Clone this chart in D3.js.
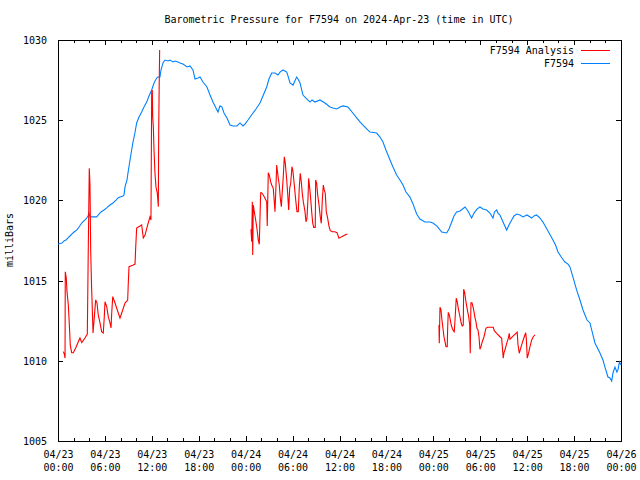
<!DOCTYPE html>
<html>
<head>
<meta charset="utf-8">
<script src="https://cdn.jsdelivr.net/npm/d3@7"></script>
<style>
  html, body { margin: 0; padding: 0; background: #fff; }
  svg text { font-family: "DejaVu Sans Mono", "Liberation Mono", monospace; font-size: 10px; fill: #000; }
</style>
</head>
<body>
<svg id="chart" width="640" height="480"></svg>
<script>
// ---- Data (hours since 2024-04-23 00:00 UTC, pressure in mb) ----
const titleText = "Barometric Pressure for F7594 on 2024-Apr-23 (time in UTC)";
const yLabelText = "milliBars";
const seriesNames = ["F7594 Analysis", "F7594"];
const yTicks = [1005, 1010, 1015, 1020, 1025, 1030];
const xTickHours = [0, 6, 12, 18, 24, 30, 36, 42, 48, 54, 60, 66, 72];

const stationHours = [0,0.26,0.51,0.77,1.02,1.28,1.53,1.79,2.05,2.39,2.69,3.03,3.32,3.58,3.84,3.96,4.09,4.48,4.95,5.24,5.5,5.88,6.23,6.65,7.03,7.42,7.67,7.93,8.31,8.44,8.57,8.82,8.95,9.21,9.42,9.59,9.81,10.06,10.36,10.7,11.0,11.34,11.64,11.98,12.15,12.34,12.62,12.79,13.04,13.17,13.43,13.68,14.07,14.32,14.71,14.96,15.35,15.6,15.98,16.5,16.88,17.26,17.52,17.9,18.16,18.54,19.05,19.44,19.82,20.2,20.46,20.72,20.97,21.23,21.61,22.0,22.38,22.89,23.27,23.66,23.91,24.3,24.94,25.32,25.83,26.21,26.69,26.98,27.33,27.75,28.13,28.39,28.77,29.25,29.41,29.67,30.05,30.52,30.69,30.95,31.33,31.71,32.23,32.48,32.86,33.5,34.14,34.78,35.17,35.64,36.06,36.45,37.08,37.6,38.2,38.62,39.0,39.51,39.9,40.75,41.18,41.56,41.94,42.46,42.84,43.31,43.73,44.12,44.5,45.01,45.4,45.87,46.29,46.93,47.57,47.95,48.47,49.07,49.71,50.0,50.35,50.64,50.98,51.41,52.05,52.43,52.9,53.2,53.58,53.96,54.35,54.82,55.24,55.63,55.82,56.1,56.27,56.52,56.91,57.38,57.67,58.02,58.31,58.66,59.08,59.46,59.97,60.58,60.87,61.21,61.64,62.02,62.66,63.3,63.68,63.94,64.45,64.83,65.22,65.47,65.86,66.33,66.75,67.14,67.65,68.03,68.41,68.67,69.05,69.31,69.69,69.95,70.33,70.59,70.81,70.97,71.23,71.48,71.61,71.8,72.0];
const stationPressure = [1017.28,1017.31,1017.34,1017.47,1017.53,1017.66,1017.78,1017.91,1018.03,1018.15,1018.34,1018.59,1018.72,1018.84,1019.03,1019.21,1018.97,1018.97,1018.97,1019.15,1019.28,1019.4,1019.53,1019.71,1019.84,1020.02,1020.15,1020.21,1020.27,1020.34,1020.84,1021.27,1021.71,1022.52,1023.14,1023.64,1024.14,1024.83,1025.2,1025.51,1025.82,1026.13,1026.51,1026.88,1027.13,1027.38,1027.63,1027.69,1027.69,1028.13,1028.57,1028.75,1028.69,1028.75,1028.63,1028.69,1028.63,1028.57,1028.5,1028.32,1028.38,1028.13,1027.57,1027.63,1027.69,1027.38,1027.07,1026.57,1026.13,1025.76,1025.51,1025.89,1025.82,1025.45,1025.14,1024.7,1024.64,1024.64,1024.83,1024.64,1024.76,1025.01,1025.45,1025.7,1026.07,1026.51,1027.07,1027.57,1027.94,1027.94,1027.82,1028.0,1028.13,1028.0,1027.76,1027.32,1027.19,1027.69,1027.57,1027.32,1026.57,1026.38,1026.13,1026.26,1026.13,1026.26,1026.07,1025.82,1025.76,1025.7,1025.82,1025.89,1025.82,1025.51,1025.14,1024.89,1024.7,1024.45,1024.26,1024.2,1023.95,1023.64,1023.14,1022.52,1022.08,1021.58,1021.27,1020.96,1020.52,1020.21,1019.78,1019.15,1018.84,1018.65,1018.65,1018.59,1018.4,1018.03,1017.97,1018.22,1018.65,1019.03,1019.28,1019.34,1019.59,1019.34,1018.9,1019.21,1019.46,1019.59,1019.46,1019.4,1019.21,1018.9,1019.28,1019.4,1019.21,1019.09,1018.65,1018.15,1018.47,1018.78,1019.03,1019.15,1019.09,1018.97,1019.09,1018.9,1019.03,1019.09,1018.9,1018.65,1018.09,1017.53,1017.16,1016.78,1016.41,1016.16,1016.03,1015.85,1015.22,1014.41,1013.79,1013.17,1012.54,1012.36,1011.61,1011.11,1010.74,1010.49,1010.05,1009.61,1008.99,1008.93,1008.74,1009.24,1009.61,1009.3,1009.43,1009.93,1009.74];

const analysis1Hours = [0.68,0.81,0.9,0.93,1.06,1.15,1.32,1.44,1.57,1.75,1.96,2.26,2.6,2.81,3.03,3.45,3.75,3.87,4.0,4.09,4.18,4.28,4.48,4.82,4.99,5.15,5.37,5.59,5.79,5.92,6.01,6.23,6.43,6.65,6.78,6.87,7.0,7.29,7.71,7.93,8.15,8.57,8.91,8.99,9.08,9.63,9.85,9.94,10.06,10.49,10.7,10.91,11.13,11.47,11.76,11.89,11.98,12.06,12.11,12.19,12.28,12.4,12.53,12.7,12.83,12.88,12.95,13.0];
const analysis1Pressure = [1010.57,1010.42,1010.17,1015.55,1015.16,1014.31,1013.48,1012.36,1010.98,1010.5,1010.5,1010.8,1011.19,1011.42,1011.13,1011.42,1011.67,1016.9,1022.0,1020.96,1016.9,1014.85,1011.73,1013.8,1013.6,1012.86,1012.36,1011.8,1011.73,1012.75,1013.68,1013.37,1012.75,1012.36,1012.05,1012.98,1014.0,1013.6,1012.98,1012.67,1012.98,1013.6,1013.79,1014.85,1015.87,1015.97,1016.03,1017.1,1018.28,1018.4,1018.47,1017.66,1017.84,1018.47,1018.97,1018.78,1026.7,1026.88,1025.22,1024.6,1023.14,1021.69,1020.85,1020.44,1019.6,1024.39,1027.6,1029.38];

const analysis2Hours = [24.68,24.77,24.85,24.9,24.97,25.1,25.28,25.41,25.54,25.61,25.74,25.83,25.92,26.05,26.25,26.47,26.69,26.76,26.89,27.02,27.2,27.33,27.53,27.66,27.75,27.88,27.97,28.04,28.17,28.3,28.43,28.56,28.68,28.81,28.94,29.07,29.25,29.37,29.5,29.63,29.76,29.92,30.05,30.22,30.4,30.56,30.73,30.86,30.98,31.11,31.24,31.37,31.59,31.71,31.84,31.97,32.06,32.19,32.31,32.44,32.57,32.7,32.9,32.95,33.08,33.21,33.38,33.54,33.67,33.8,33.93,34.05,34.18,34.31,34.49,34.65,34.82,35.08,35.42,35.68,35.93,36.28,36.7,37.0];
const analysis2Pressure = [1018.2,1017.43,1019.92,1016.6,1019.71,1019.3,1018.78,1018.36,1017.84,1017.53,1017.26,1018.88,1020.48,1020.48,1020.34,1020.13,1019.92,1018.4,1021.73,1021.58,1021.17,1020.96,1020.75,1019.92,1019.3,1020.96,1022.21,1021.9,1021.38,1020.96,1020.13,1019.61,1020.54,1021.48,1022.72,1022.31,1021.27,1020.44,1019.4,1020.75,1021.07,1022.1,1021.79,1020.96,1020.02,1019.3,1019.3,1020.85,1021.69,1021.17,1020.44,1019.92,1019.3,1018.67,1018.88,1020.13,1021.38,1020.75,1020.13,1019.3,1018.61,1018.32,1018.32,1021.27,1021.07,1020.34,1019.71,1018.98,1018.57,1020.02,1020.96,1020.65,1020.44,1019.3,1018.88,1018.4,1018.11,1018.05,1018.05,1017.99,1017.64,1017.74,1017.84,1017.91];

const analysis3Hours = [48.72,48.76,48.85,48.98,49.1,49.23,49.36,49.49,49.62,49.78,49.83,49.91,50.04,50.17,50.29,50.42,50.55,50.68,50.81,50.93,51.06,51.19,51.32,51.45,51.57,51.7,51.83,51.88,52.01,52.14,52.26,52.39,52.52,52.65,52.72,52.81,52.94,53.07,53.2,53.32,53.45,53.58,53.71,53.84,53.96,54.09,54.26,54.48,54.73,54.9,55.67,55.79,56.1,56.52,56.74,56.94,57.03,57.16,57.38,57.58,57.71,57.8,58.22,58.73,58.82,58.99,59.17,59.42,59.63,59.81,59.89,60.01,60.19,60.36,60.58,60.78,61.0];
const analysis3Pressure = [1012.23,1011.09,1013.34,1013.17,1012.54,1012.03,1011.5,1011.19,1010.88,1010.88,1012.03,1013.02,1012.86,1012.54,1012.23,1012.03,1011.88,1011.81,1012.86,1013.9,1013.68,1013.27,1012.96,1012.65,1012.34,1012.17,1012.23,1014.46,1014.25,1013.79,1013.42,1013.06,1012.75,1012.23,1010.47,1013.62,1013.62,1013.37,1013.06,1012.71,1012.44,1012.03,1011.92,1011.5,1010.72,1010.88,1011.19,1011.5,1012.03,1012.09,1012.09,1011.88,1011.71,1011.5,1011.4,1010.16,1010.5,1010.67,1011.09,1011.4,1011.71,1011.34,1011.55,1011.78,1011.03,1010.47,1010.78,1011.19,1011.5,1011.75,1011.4,1010.16,1010.5,1010.88,1011.3,1011.5,1011.61];

// ---- Layout ----
const startTime = Date.UTC(2024, 3, 23, 0, 0);
const toDate = h => new Date(startTime + h * 3600 * 1000);
const margin = { left: 58, right: 621, top: 40, bottom: 441 };
const colors = { analysis: "#ff0000", station: "#0080ff" };

const svg = d3.select("#chart");
const x = d3.scaleUtc().domain([toDate(0), toDate(72)]).range([margin.left, margin.right]);
const y = d3.scaleLinear().domain([1005, 1030]).range([margin.bottom, margin.top]);

const majorTicks = xTickHours.map(toDate);
const minorTicks = d3.range(0, 73, 2).filter(h => h % 6 !== 0).map(toDate);

// minor x ticks bottom/top
const gMinor = svg.append("g");
gMinor.append("g").attr("transform", `translate(0,${margin.bottom})`)
  .call(d3.axisBottom(x).tickValues(minorTicks).tickSize(-3).tickFormat(""))
  .call(g => g.select(".domain").remove());
gMinor.append("g").attr("transform", `translate(0,${margin.top})`)
  .call(d3.axisTop(x).tickValues(minorTicks).tickSize(-3).tickFormat(""))
  .call(g => g.select(".domain").remove());

// major x ticks bottom with two-line labels
const fmtDate = d3.utcFormat("%m/%d"), fmtTime = d3.utcFormat("%H:%M");
const gx = svg.append("g").attr("transform", `translate(0,${margin.bottom})`)
  .call(d3.axisBottom(x).tickValues(majorTicks).tickSize(-5).tickSizeOuter(0).tickFormat(""));
gx.select(".domain").remove();
gx.selectAll(".tick").append("text")
  .attr("text-anchor", "middle")
  .each(function(d) {
    const t = d3.select(this);
    t.append("tspan").attr("x", 0).attr("y", 17).text(fmtDate(d));
    t.append("tspan").attr("x", 0).attr("y", 30).text(fmtTime(d));
  });
svg.append("g").attr("transform", `translate(0,${margin.top})`)
  .call(d3.axisTop(x).tickValues(majorTicks).tickSize(-5).tickFormat(""))
  .call(g => g.select(".domain").remove());

// y ticks
const gy = svg.append("g").attr("transform", `translate(${margin.left},0)`)
  .call(d3.axisLeft(y).tickValues(yTicks).tickSize(-5).tickPadding(11).tickFormat(d3.format("d")));
gy.select(".domain").remove();
gy.selectAll("text").style("font-family", null).style("font-size", null).attr("dy", "0.35em");
gy.attr("font-family", null).attr("font-size", null);
svg.append("g").attr("transform", `translate(${margin.right},0)`)
  .call(d3.axisRight(y).tickValues(yTicks).tickSize(-5).tickFormat(""))
  .call(g => g.select(".domain").remove());

svg.selectAll(".tick line").attr("stroke", "#000").attr("shape-rendering", "crispEdges");
svg.selectAll("g").attr("font-family", null).attr("font-size", null);

// frame
svg.append("rect")
  .attr("x", margin.left).attr("y", margin.top)
  .attr("width", margin.right - margin.left).attr("height", margin.bottom - margin.top)
  .attr("fill", "none").attr("stroke", "#000").attr("shape-rendering", "crispEdges");

// lines
const line = d3.line().x(d => x(toDate(d[0]))).y(d => y(d[1]));
const zip = (a, b) => a.map((v, i) => [v, b[i]]);

svg.append("path").datum(zip(stationHours, stationPressure))
  .attr("d", line).attr("fill", "none").attr("stroke", colors.station).attr("stroke-width", 1.1);
[[analysis1Hours, analysis1Pressure], [analysis2Hours, analysis2Pressure], [analysis3Hours, analysis3Pressure]]
  .forEach(([h, p]) => {
    svg.append("path").datum(zip(h, p))
      .attr("d", line).attr("fill", "none").attr("stroke", colors.analysis).attr("stroke-width", 1.1);
  });

// title
svg.append("text").attr("x", 339).attr("y", 23).attr("text-anchor", "middle").text(titleText);

// y label
svg.append("text").attr("transform", "translate(13,240) rotate(-90)")
  .attr("text-anchor", "middle").text(yLabelText);

// legend
const legend = svg.append("g");
[[seriesNames[0], colors.analysis, 50], [seriesNames[1], colors.station, 63]].forEach(([name, c, ly]) => {
  legend.append("text").attr("x", 574).attr("y", ly + 3.5).attr("text-anchor", "end").text(name);
  legend.append("line").attr("x1", 581).attr("x2", 610).attr("y1", ly + 0.5).attr("y2", ly + 0.5)
    .attr("stroke", c).attr("stroke-width", 1);
});
</script>
</body>
</html>
